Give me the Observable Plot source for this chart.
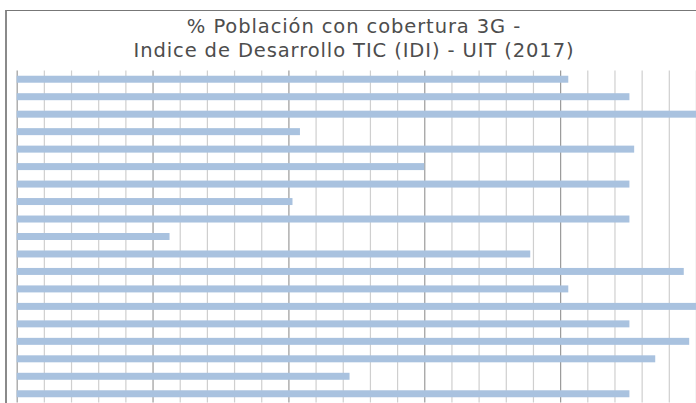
<!DOCTYPE html>
<html>
<head>
<meta charset="utf-8">
<script src="https://cdn.jsdelivr.net/npm/d3@7"></script>
<script src="https://cdn.jsdelivr.net/npm/@observablehq/plot@0.6"></script>
<style>
  html, body { margin: 0; padding: 0; background: #fff; overflow: hidden; width: 696px; height: 403px; }
  #frame { position: absolute; left: 5px; top: 10px; width: 900px; height: 600px;
           border-top: 1.5px solid #777; border-left: 2px solid #8a8a8a; }
  #title { position: absolute; left: 0; top: 15px; width: 708px; text-align: center;
           font-family: "DejaVu Sans", sans-serif; font-size: 19.5px; line-height: 23.5px;
           letter-spacing: 0.9px; color: #4d4d4d; }
  #chart { position: absolute; left: 0; top: 62px; line-height: 0; }
</style>
</head>
<body>
<div id="frame"></div>
<div id="title">% Población con cobertura 3G -<br>Indice de Desarrollo TIC (IDI) - UIT (2017)</div>
<div id="chart"></div>
<script>
const rows = ["Fila 1","Fila 2","Fila 3","Fila 4","Fila 5","Fila 6","Fila 7","Fila 8","Fila 9","Fila 10",
              "Fila 11","Fila 12","Fila 13","Fila 14","Fila 15","Fila 16","Fila 17","Fila 18","Fila 19"];
const coverage = [81.2, 90.2, 100, 41.7, 90.9, 60.0, 90.2, 40.6, 90.2, 22.5,
                  75.6, 98.2, 81.2, 100, 90.2, 99.0, 94.0, 49.0, 90.2];
const minorTicks = d3.range(0, 101, 4);
const majorTicks = [0, 20, 40, 60, 80, 100];

const data = rows.map((r, i) => ({row: r, value: coverage[i]}));

const chart = Plot.plot({
  width: 697,
  height: 341,
  marginLeft: 16.7,
  marginRight: 0,
  marginTop: 8.5,
  marginBottom: 0,
  x: {domain: [0, 100], axis: null},
  y: {domain: rows, axis: null, round: false, paddingInner: 0.6, paddingOuter: 0.3},
  marks: [
    Plot.ruleX(minorTicks.filter(t => !majorTicks.includes(t)), {stroke: "#cfcfcf", strokeWidth: 1.2}),
    Plot.ruleX(majorTicks, {stroke: "#9a9a9a", strokeWidth: 1.2}),
    Plot.barX(data, {x: "value", y: "row", fill: "#a9c2df"})
  ]
});
document.getElementById("chart").appendChild(chart);
</script>
</body>
</html>
